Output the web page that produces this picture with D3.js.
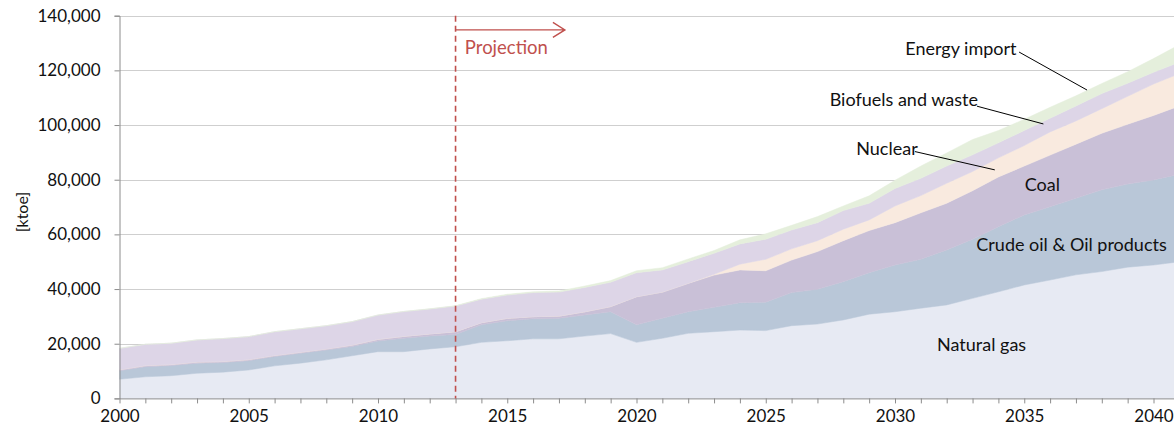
<!DOCTYPE html>
<html>
<head>
<meta charset="utf-8">
<script src="https://cdn.jsdelivr.net/npm/d3@7"></script>
<style>
  body { margin: 0; background: #fff; }
  svg { display: block; font-family: Lato, "Open Sans", sans-serif; }
</style>
</head>
<body>
<svg id="chart" width="1174" height="435"></svg>
<script>
// Primary energy supply by source, ktoe
const years = d3.range(2000, 2042)

const naturalGas = [7000, 7900, 8300, 9200, 9600, 10400, 11900, 12900, 14100, 15600,
	17100, 17100, 18100, 18900, 20500, 21100, 21800, 21800, 22800, 23700,
	20500, 22000, 23800, 24400, 25000, 24800, 26600, 27200, 28700, 30800,
	31700, 33000, 34200, 36600, 39000, 41500, 43300, 45200, 46400, 48000,
	48800, 50000]
const crudeOil = [3100, 3700, 3700, 3700, 3500, 3400, 3400, 3600, 3600, 3400,
	3900, 4900, 4700, 4500, 6400, 7300, 7300, 7500, 7700, 8000,
	6400, 7300, 7900, 8900, 10000, 10400, 12100, 12700, 14000, 15200,
	17100, 17900, 20100, 21600, 23800, 25600, 26800, 28000, 29900, 30400,
	31100, 32000]
const coal = [400, 400, 400, 400, 400, 400, 400, 400, 400, 500,
	600, 700, 800, 1000, 800, 900, 800, 800, 1200, 1900,
	10300, 9600, 10400, 11800, 12000, 11500, 11900, 13800, 15000, 15400,
	15500, 17000, 17100, 17800, 18200, 17900, 18900, 19800, 20700, 21900,
	23600, 25000]
const nuclear = [0, 0, 0, 0, 0, 0, 0, 0, 0, 0,
	0, 0, 0, 0, 0, 0, 0, 0, 0, 0,
	0, 0, 0, 300, 2100, 4200, 4100, 4000, 4200, 3900,
	6100, 6300, 7300, 7000, 7000, 7500, 8500, 8500, 9000, 10200,
	11500, 11800]
const biofuels = [7800, 7800, 7800, 8100, 8400, 8400, 8700, 8600, 8500, 8600,
	8900, 9100, 9100, 9400, 8600, 8500, 8800, 8800, 8900, 8900,
	8800, 8100, 7900, 7700, 7400, 7300, 6900, 6600, 6800, 6100,
	6400, 6300, 6300, 6100, 5500, 5500, 5000, 5500, 5500, 4800,
	4300, 4200]
const energyImport = [0, 0, 0, 0, 0, 0, 0, 0, 0, 0,
	0, 0, 100, 100, 200, 300, 300, 400, 500, 600,
	700, 800, 1000, 1000, 1500, 2000, 1700, 2200, 1700, 2700,
	3000, 4500, 4800, 5600, 4500, 4100, 4000, 3700, 3700, 4200,
	5000, 6400]

const seriesNames = ['Natural gas', 'Crude oil & Oil products', 'Coal', 'Nuclear', 'Biofuels and waste', 'Energy import']
const seriesColors = ['#e7eaf3', '#b9c7d8', '#c9c0d7', '#f9eadf', '#ddd5e7', '#e5efdc']
const yTicks = [0, 20000, 40000, 60000, 80000, 100000, 120000, 140000]
const xTickLabels = [2000, 2005, 2010, 2015, 2020, 2025, 2030, 2035, 2040]
const projectionYear = 2013

// label positions in data units (year, ktoe)
const labels = [
	{ text: 'Natural gas', x: 2033.35, y: 19500 },
	{ text: 'Crude oil & Oil products', x: 2036.83, y: 56100 },
	{ text: 'Coal', x: 2035.7, y: 78100 },
	{ text: 'Nuclear', x: 2029.69, y: 91500, line: [2030.77, 90300, 2033.86, 83600] },
	{ text: 'Biofuels and waste', x: 2030.34, y: 109200, line: [2033.17, 106900, 2035.74, 100400] },
	{ text: 'Energy import', x: 2032.55, y: 127800, line: [2034.8, 126700, 2037.43, 112800] }
]

const table = years.map((yr, i) => ({
	year: yr,
	'Natural gas': naturalGas[i],
	'Crude oil & Oil products': crudeOil[i],
	'Coal': coal[i],
	'Nuclear': nuclear[i],
	'Biofuels and waste': biofuels[i],
	'Energy import': energyImport[i]
}))

const svg = d3.select('#chart')
const plotLeft = 119.5
const plotTop = 15.7
const plotBottom = 398.4

const x = d3.scaleLinear()
	.domain([2000, 2041])
	.range([plotLeft, plotLeft + 41 * 25.85])

const y = d3.scaleLinear()
	.domain([0, 140000])
	.range([plotBottom, plotTop])

// gridlines
svg.append('g')
	.selectAll('line')
	.data(yTicks.filter(d => d > 0))
	.join('line')
	.attr('x1', plotLeft)
	.attr('x2', 1174)
	.attr('y1', d => Math.round(y(d)) + 0.5)
	.attr('y2', d => Math.round(y(d)) + 0.5)
	.attr('stroke', '#cfcfcf')
	.attr('stroke-width', 1.2)

// stacked areas
const stack = d3.stack().keys(seriesNames)
const layers = stack(table)

const area = d3.area()
	.x(d => x(d.data.year))
	.y0(d => y(d[0]))
	.y1(d => y(d[1]))

svg.append('g')
	.selectAll('path')
	.data(layers)
	.join('path')
	.attr('d', area)
	.attr('fill', (d, i) => seriesColors[i])
	.attr('stroke', (d, i) => seriesColors[i])
	.attr('stroke-width', 0.5)

// y axis
const yAxis = d3.axisLeft(y)
	.tickValues(yTicks)
	.tickSize(5)
	.tickPadding(14)
	.tickFormat(d3.format(','))

svg.append('g')
	.attr('transform', `translate(${plotLeft},0)`)
	.call(yAxis)
	.call(g => g.select('.domain').attr('stroke', '#8c8c8c'))
	.call(g => g.selectAll('.tick line').attr('stroke', '#8c8c8c'))
	.call(g => g.selectAll('text').attr('font-size', 17).attr('fill', '#111').attr('font-family', 'Lato, sans-serif'))

// x axis, tick every year, label every 5
const xAxis = d3.axisBottom(x)
	.tickValues(years)
	.tickSize(5)
	.tickSizeOuter(0)
	.tickPadding(7)
	.tickFormat(d => xTickLabels.includes(d) ? d : '')

svg.append('g')
	.attr('transform', `translate(0,${plotBottom})`)
	.call(xAxis)
	.call(g => g.select('.domain').attr('stroke', '#8c8c8c'))
	.call(g => g.selectAll('.tick line').attr('stroke', '#8c8c8c'))
	.call(g => g.selectAll('text').attr('font-size', 17).attr('fill', '#111').attr('font-family', 'Lato, sans-serif'))

// y axis title
svg.append('text')
	.attr('transform', `translate(28,${(plotTop + plotBottom) / 2 + 5}) rotate(-90)`)
	.attr('text-anchor', 'middle')
	.attr('font-size', 16)
	.attr('fill', '#111')
	.text('[ktoe]')

// projection marker
const red = '#c0504d'
svg.append('line')
	.attr('x1', x(projectionYear))
	.attr('x2', x(projectionYear))
	.attr('y1', y(140000))
	.attr('y2', plotBottom)
	.attr('stroke', red)
	.attr('stroke-width', 1.6)
	.attr('stroke-dasharray', '6,4')

const ay = y(134800)
const ax2 = x(2017.23)
svg.append('path')
	.attr('d', `M ${x(projectionYear)} ${ay} L ${ax2} ${ay} M ${ax2 - 12} ${ay - 7.5} L ${ax2} ${ay} L ${ax2 - 12} ${ay + 7.5}`)
	.attr('fill', 'none')
	.attr('stroke', red)
	.attr('stroke-width', 1.4)

svg.append('text')
	.attr('x', x(2013.36))
	.attr('y', y(128200))
	.attr('dy', '0.35em')
	.attr('font-size', 18.5)
	.attr('fill', red)
	.text('Projection')

// series labels with leader lines
const lab = svg.append('g')
lab.selectAll('line')
	.data(labels.filter(d => d.line))
	.join('line')
	.attr('x1', d => x(d.line[0]))
	.attr('y1', d => y(d.line[1]))
	.attr('x2', d => x(d.line[2]))
	.attr('y2', d => y(d.line[3]))
	.attr('stroke', '#000')
	.attr('stroke-width', 1)

lab.selectAll('text')
	.data(labels)
	.join('text')
	.attr('x', d => x(d.x))
	.attr('y', d => y(d.y))
	.attr('dy', '0.35em')
	.attr('text-anchor', 'middle')
	.attr('font-size', 18)
	.attr('fill', '#111')
	.text(d => d.text)
</script>
</body>
</html>
